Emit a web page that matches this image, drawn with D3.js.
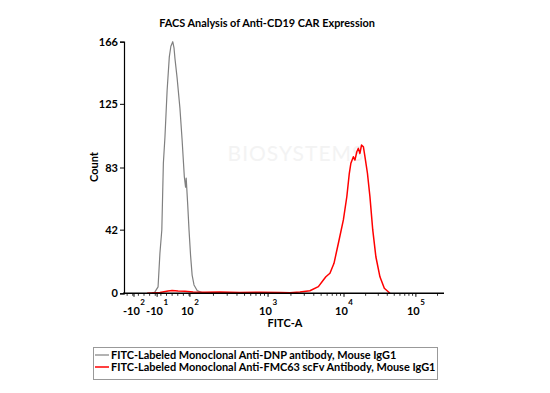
<!DOCTYPE html>
<html>
<head>
<meta charset="utf-8">
<script src="https://cdn.jsdelivr.net/npm/d3@7"></script>
<style>
  body { margin: 0; background: #fff; }
  svg { display: block; }
  text { font-family: Lato, "Open Sans", sans-serif; font-weight: bold; fill: #000; }
</style>
</head>
<body>
<div id="chart"></div>
<script>
// display channel (0-1024 on the biexponential FITC-A axis) and event count
const grayChannel = [90, 99, 109, 115, 121, 126, 131, 138, 145, 150, 156, 160, 163, 170, 179, 186, 193, 197, 199, 204, 208, 213, 218, 224, 234, 253, 275];
const grayCount = [0, 0.9, 4.2, 26.6, 41.8, 86, 103, 134, 156, 163, 166, 162, 155, 142, 122, 101, 77, 70, 76, 58, 42, 25, 12, 5.5, 1.8, 0.2, 0];

const redChannel = [74, 115, 141, 154, 173, 195, 221, 259, 307, 371, 435, 499, 531, 563, 595, 622, 638, 646, 659, 672, 686, 702, 713, 721, 726, 734, 739, 745, 750, 755, 760, 766, 771, 779, 787, 796, 806, 819, 833, 851];
const redCount = [0, 0.5, 1.5, 1.8, 1.5, 1.3, 0.9, 0.7, 0.9, 0.5, 0.7, 0.5, 0.4, 0.9, 1.7, 4.4, 8.8, 10.9, 13.2, 19.8, 33, 48.4, 63.7, 79.2, 85.8, 90.1, 87.9, 93.4, 95.6, 92.3, 97.8, 96.7, 90.1, 79.2, 63.7, 41.8, 24.1, 10.9, 3.3, 0];

const xTickChannel = [32, 106, 211, 461, 704, 934];
const xTickBase = ["-10", "-10", "10", "10", "10", "10"];
const xTickExp = ["2", "1", "2", "3", "4", "5"];
const yTicks = [0, 42, 83, 125, 166];

const seriesNames = [
    "FITC-Labeled Monoclonal Anti-DNP antibody, Mouse IgG1",
    "FITC-Labeled Monoclonal Anti-FMC63 scFv Antibody, Mouse IgG1"
];
const seriesColors = ["#808080", "#ff0000"];

const width = 550, height = 393;
const margin = { left: 124, right: 106, top: 41.7, bottom: 99.7 };

const svg = d3.select("#chart")
    .append("svg")
    .attr("width", width)
    .attr("height", height);

const x = d3.scaleLinear().domain([0, 1024]).range([margin.left, width - margin.right]);
const y = d3.scaleLinear().domain([0, 166]).range([height - margin.bottom, margin.top]);

// faint watermark
svg.append("text")
    .attr("x", 296).attr("y", 161)
    .attr("text-anchor", "middle")
    .style("font-size", "21px")
    .style("font-weight", "normal")
    .style("letter-spacing", "1px")
    .style("fill", "#f3f3f3")
    .text("BIOSYSTEMS");

// title
svg.append("text")
    .attr("class", "fit")
    .attr("data-w", 216)
    .attr("x", 267).attr("y", 27)
    .attr("text-anchor", "middle")
    .style("font-size", "11px")
    .text("FACS Analysis of Anti-CD19 CAR Expression");

// histograms
const line = d3.line().x((d) => x(d[0])).y((d) => y(d[1]));
const series = [
    d3.zip(grayChannel, grayCount),
    d3.zip(redChannel, redCount)
];
svg.append("g")
    .selectAll("path")
    .data(series)
    .join("path")
    .attr("fill", "none")
    .attr("stroke", (d, i) => seriesColors[i])
    .attr("stroke-width", (d, i) => (i === 0 ? 1.2 : 1.5))
    .attr("stroke-linejoin", "round")
    .attr("d", line);

// y axis
const yAxis = svg.append("g")
    .attr("transform", `translate(${margin.left},0)`)
    .call(d3.axisLeft(y).tickValues(yTicks).tickSize(4).tickPadding(2));
yAxis.select(".domain").attr("stroke", "#000").attr("stroke-width", 1.2);
yAxis.selectAll("text").style("font-size", "11px").style("font-family", "Lato, sans-serif");

svg.append("text")
    .attr("transform", "translate(98,167) rotate(-90)")
    .attr("text-anchor", "middle")
    .style("font-size", "11px")
    .text("Count");

// x axis: minor ticks spaced by decade between the labelled decades
const minor = [];
for (let i = 2; i < xTickChannel.length - 1; i++) {
    const a = xTickChannel[i], b = xTickChannel[i + 1];
    for (let k = 2; k <= 9; k++) minor.push(a + (b - a) * Math.log10(k));
}
const lastSpan = xTickChannel[5] - xTickChannel[4];
for (let k = 2; k <= 9; k++) {
    const c = xTickChannel[5] + lastSpan * Math.log10(k);
    if (c < 1024) minor.push(c);
}
for (let c = 10; c < 211; c += 18) minor.push(c);

const xg = svg.append("g")
    .attr("transform", `translate(0,${y(0)})`);
xg.append("line")
    .attr("x1", x(0) - 1).attr("x2", x(1024))
    .attr("stroke", "#000").attr("stroke-width", 1.5);
xg.selectAll(".minor")
    .data(minor)
    .join("line")
    .attr("class", "minor")
    .attr("x1", (d) => x(d)).attr("x2", (d) => x(d))
    .attr("y1", 0).attr("y2", 2.5)
    .attr("stroke", "#000").attr("stroke-width", 0.8);
xg.selectAll(".major")
    .data(xTickChannel)
    .join("line")
    .attr("class", "major")
    .attr("x1", (d) => x(d)).attr("x2", (d) => x(d))
    .attr("y1", 0).attr("y2", 3.5)
    .attr("stroke", "#000").attr("stroke-width", 1);

const labels = xg.selectAll(".lbl")
    .data(xTickChannel)
    .join("text")
    .attr("class", "lbl")
    .attr("x", (d) => x(d))
    .attr("y", 21.5)
    .attr("text-anchor", "middle")
    .style("font-size", "11px");
labels.append("tspan").text((d, i) => xTickBase[i]);
labels.append("tspan")
    .attr("dx", 0.5)
    .attr("dy", -10)
    .style("font-size", "8px")
    .text((d, i) => xTickExp[i]);

svg.append("text")
    .attr("x", 285).attr("y", 327)
    .attr("text-anchor", "middle")
    .style("font-size", "11px")
    .text("FITC-A");

// legend
const legend = svg.append("g");
legend.append("rect")
    .attr("x", 93.5).attr("y", 347.5)
    .attr("width", 344).attr("height", 32)
    .attr("fill", "#fff")
    .attr("stroke", "#999")
    .attr("stroke-width", 1);
const items = legend.selectAll(".item")
    .data(seriesNames)
    .join("g")
    .attr("class", "item")
    .attr("transform", (d, i) => `translate(95,${355 + i * 12})`);
items.append("line")
    .attr("x1", 0).attr("x2", 14)
    .attr("stroke", (d, i) => seriesColors[i])
    .attr("stroke-width", (d, i) => (i === 0 ? 1.2 : 1.5));
items.append("text")
    .attr("class", (d, i) => (i === 1 ? "fit legend" : "legend"))
    .attr("data-w", 325)
    .attr("x", 16)
    .attr("y", 4)
    .style("font-size", "11px")
    .text((d) => d);

// match font sizes to the reference text widths
svg.selectAll(".fit").each(function () {
    const el = d3.select(this);
    const w = this.getComputedTextLength();
    const target = +el.attr("data-w");
    const fs = 11 * target / w;
    if (el.classed("legend")) {
        svg.selectAll(".legend").style("font-size", fs + "px");
    } else {
        el.style("font-size", fs + "px");
    }
});
</script>
</body>
</html>
